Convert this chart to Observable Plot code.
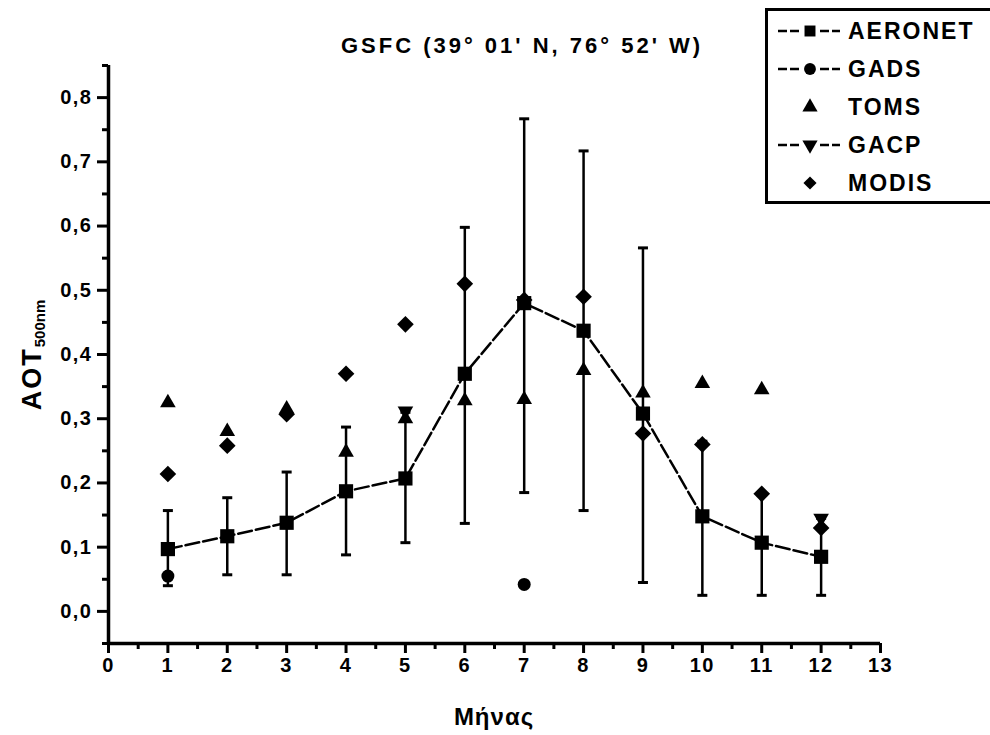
<!DOCTYPE html>
<html>
<head>
<meta charset="utf-8">
<script src="https://cdn.jsdelivr.net/npm/d3@7"></script>
<script src="https://cdn.jsdelivr.net/npm/@observablehq/plot@0.6"></script>
<style>
  html, body { margin: 0; padding: 0; background: #fff; }
  #wrap { position: relative; width: 990px; height: 735px; overflow: hidden; font-family: "Liberation Sans", Arial, sans-serif; font-weight: bold; color: #000; }
  #wrap svg.plot { position: absolute; left: 0; top: 0; }
  #title { position: absolute; left: 0; width: 1044px; top: 33px; text-align: center; font-size: 22px; letter-spacing: 3px; }
  #xlabel { position: absolute; left: 0; width: 988px; top: 703px; text-align: center; font-size: 24px; letter-spacing: 1px; }
  #ylabel { position: absolute; left: 32px; top: 355px; transform: translate(-50%, -50%) rotate(-90deg); font-size: 27px; letter-spacing: 2px; white-space: nowrap; }
  #ylabel sub { font-size: 15px; vertical-align: -4px; letter-spacing: 0; }
  #legend { position: absolute; left: 765px; top: 8px; width: 260px; height: 196px; border: 3px solid #000; box-sizing: border-box; background: #fff; }
  .lrow { position: absolute; left: 0; height: 36px; display: flex; align-items: center; font-size: 23px; letter-spacing: 2px; }
  .lrow svg { width: 80px; height: 36px; }
</style>
</head>
<body>
<div id="wrap">
  <div id="title">GSFC (39° 01' N, 76° 52' W)</div>
  <div id="xlabel">Μήνας</div>
  <div id="ylabel">AOT<sub>500nm</sub></div>
  <div id="legend"></div>
</div>
<script>
// ---- data ----
const months = [1, 2, 3, 4, 5, 6, 7, 8, 9, 10, 11, 12];
const aeronet   = [0.097, 0.117, 0.138, 0.187, 0.207, 0.370, 0.480, 0.437, 0.308, 0.148, 0.107, 0.085];
const aeronetLo = [0.040, 0.057, 0.057, 0.088, 0.107, 0.137, 0.185, 0.157, 0.045, 0.025, 0.025, 0.025];
const aeronetHi = [0.157, 0.177, 0.217, 0.287, 0.310, 0.598, 0.767, 0.717, 0.566, 0.265, 0.185, 0.145];
const toms      = [0.325, 0.280, 0.315, 0.248, 0.300, 0.328, 0.330, 0.375, 0.340, 0.355, 0.345, null];
const modis     = [0.214, 0.258, 0.307, 0.370, 0.447, 0.510, 0.485, 0.490, 0.277, 0.260, 0.183, 0.130];
const gadsMonths = [1, 7];
const gads       = [0.055, 0.042];
const gacpMonths = [5, 12];
const gacp       = [0.312, 0.145];

const seriesNames = ["AERONET", "GADS", "TOMS", "GACP", "MODIS"];
const xTicks = [0, 1, 2, 3, 4, 5, 6, 7, 8, 9, 10, 11, 12, 13];
const xMinor = [0.5, 1.5, 2.5, 3.5, 4.5, 5.5, 6.5, 7.5, 8.5, 9.5, 10.5, 11.5, 12.5];
const yTicks = [0, 0.1, 0.2, 0.3, 0.4, 0.5, 0.6, 0.7, 0.8];
const yMinor = [-0.05, 0.05, 0.15, 0.25, 0.35, 0.45, 0.55, 0.65, 0.75, 0.85];

// ---- tables ----
const aer = months.map((m, i) => ({month: m, v: aeronet[i], lo: aeronetLo[i], hi: aeronetHi[i]}));
const tomsData = months.map((m, i) => ({month: m, v: toms[i]})).filter(d => d.v != null);
const modisData = months.map((m, i) => ({month: m, v: modis[i]}));
const gadsData = gadsMonths.map((m, i) => ({month: m, v: gads[i]}));
const gacpData = gacpMonths.map((m, i) => ({month: m, v: gacp[i]}));

const capSymbol = { draw(ctx) { ctx.moveTo(-5, 0); ctx.lineTo(5, 0); } };
const fmt = d => d.toFixed(1).replace(".", ",");

const chart = Plot.plot({
  width: 990,
  height: 735,
  marginLeft: 108,
  marginRight: 110,
  marginTop: 65,
  marginBottom: 92,
  x: {domain: [0, 13]},
  y: {domain: [-0.05, 0.85]},
  style: {fontFamily: "'Liberation Sans', Arial, sans-serif", fontWeight: "bold", fontSize: "20px", color: "#000", background: "transparent", letterSpacing: "1.5px"},
  marks: [
    Plot.axisX(xTicks, {tickSize: 10, tickPadding: 4, strokeWidth: 3, label: null, fontSize: 20, fontWeight: "bold"}),
    Plot.axisX(xMinor, {tickSize: 6, strokeWidth: 3, tickFormat: () => "", label: null}),
    Plot.axisY(yTicks, {tickSize: 11, tickPadding: 5, strokeWidth: 3, tickFormat: fmt, label: null, fontSize: 20, fontWeight: "bold"}),
    Plot.axisY(yMinor, {tickSize: 6, strokeWidth: 3, tickFormat: () => "", label: null}),
    Plot.ruleX([0], {y1: -0.05, y2: 0.85, strokeWidth: 3.5}),
    Plot.ruleY([-0.05], {x1: 0, x2: 13, strokeWidth: 3.5}),
    // error bars
    Plot.ruleX(aer, {x: "month", y1: "lo", y2: "hi", strokeWidth: 2.5}),
    Plot.dot(aer, {x: "month", y: "lo", symbol: capSymbol, fill: "none", stroke: "black", strokeWidth: 3}),
    Plot.dot(aer, {x: "month", y: "hi", symbol: capSymbol, fill: "none", stroke: "black", strokeWidth: 3}),
    // AERONET line
    Plot.line(aer, {x: "month", y: "v", stroke: "black", strokeWidth: 2.5, strokeDasharray: "14,4"}),
    // TOMS
    Plot.dot(tomsData, {x: "month", y: "v", symbol: "triangle", r: 5.8, fill: "black"}),
    // GACP
    Plot.dot(gacpData, {x: "month", y: "v", symbol: "triangle", rotate: 180, r: 5.8, fill: "black"}),
    // MODIS
    Plot.dot(modisData, {x: "month", y: "v", symbol: "diamond2", r: 7.5, fill: "black"}),
    // AERONET markers
    Plot.dot(aer, {x: "month", y: "v", symbol: "square", r: 8, fill: "black"}),
    // GADS
    Plot.dot(gadsData, {x: "month", y: "v", symbol: "circle", r: 6.5, fill: "black"})
  ]
});
chart.classList.add("plot");
document.getElementById("wrap").prepend(chart);

// ---- legend ----
const legendSpec = {
  AERONET: {sym: d3.symbolSquare, size: 120, rot: 0, line: true},
  GADS:    {sym: d3.symbolCircle, size: 110, rot: 0, line: true},
  TOMS:    {sym: d3.symbolTriangle, size: 100, rot: 0, line: false},
  GACP:    {sym: d3.symbolTriangle, size: 100, rot: 180, line: true},
  MODIS:   {sym: d3.symbolDiamond2, size: 110, rot: 0, line: false}
};
const legend = document.getElementById("legend");
seriesNames.forEach((name, i) => {
  const s = legendSpec[name];
  const row = document.createElement("div");
  row.className = "lrow";
  row.style.top = (2 + i * 38) + "px";
  const path = d3.symbol(s.sym, s.size)();
  const line = s.line ? `<line x1="10" x2="32" y1="18" y2="18" stroke="#000" stroke-width="2.5" stroke-dasharray="9,3"/><line x1="52" x2="72" y1="18" y2="18" stroke="#000" stroke-width="2.5" stroke-dasharray="9,3"/>` : "";
  row.innerHTML = `<svg viewBox="0 0 80 36">${line}<path d="${path}" transform="translate(42,18) rotate(${s.rot})" fill="#000"/></svg><span>${name}</span>`;
  legend.appendChild(row);
});
</script>
</body>
</html>
